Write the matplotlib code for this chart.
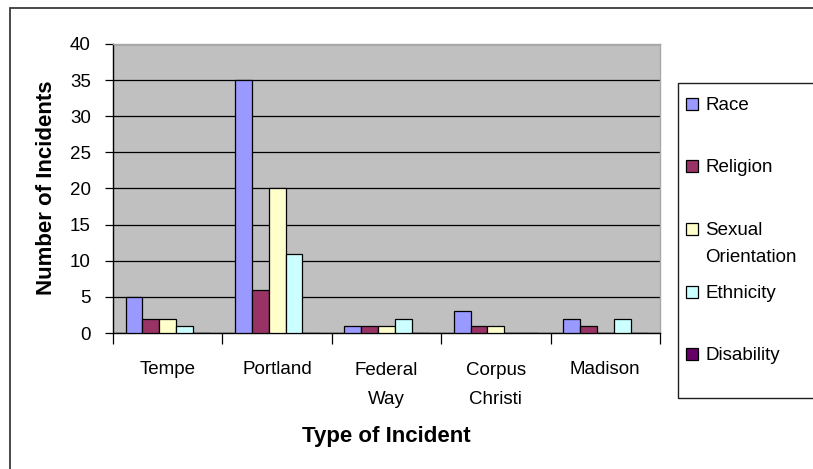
import matplotlib
matplotlib.use('Agg')
import matplotlib.pyplot as plt
from matplotlib.patches import Rectangle
import numpy as np

# ---- data ----
cities = ['Tempe', 'Portland', 'Federal\nWay', 'Corpus\nChristi', 'Madison']
series_names = ['Race', 'Religion', 'Sexual\nOrientation', 'Ethnicity', 'Disability']
race = [5, 35, 1, 3, 2]
religion = [2, 6, 1, 1, 1]
sexual_orientation = [2, 20, 1, 1, 0]
ethnicity = [1, 11, 2, 0, 2]
disability = [0, 0, 0, 0, 0]
yticks = [0, 5, 10, 15, 20, 25, 30, 35, 40]

series_values = [race, religion, sexual_orientation, ethnicity, disability]
colors = ['#9999FF', '#993366', '#FFFFCC', '#CCFFFF', '#660066']

plt.rcParams['font.family'] = ['Liberation Sans', 'DejaVu Sans']

W, H = 813, 469
fig = plt.figure(figsize=(W / 100, H / 100), dpi=100)
fig.patch.set_facecolor('white')

LABEL_SIZE = 13.5
TITLE_SIZE = 16


def fx(px):
    return px / W


def fy(py):
    return 1 - py / H


# chart-area border (runs off the right and bottom edges)
fig.patches.append(Rectangle((fx(10), fy(H + 20)), fx(W + 20) - fx(10), fy(8) - fy(H + 20),
                             transform=fig.transFigure, fill=False,
                             edgecolor='#3a3a3a', linewidth=1.3))

# plot area
L, R, T, B = 113, 660, 44, 333
ax = fig.add_axes([fx(L), fy(B), fx(R) - fx(L), fy(T) - fy(B)])
ax.set_facecolor('#C0C0C0')

n_series = len(series_values)
x = np.arange(len(cities))
bar_w = 1 / (n_series + 1.5)
for i, (vals, col) in enumerate(zip(series_values, colors)):
    offs = (i - (n_series - 1) / 2) * bar_w
    ax.bar(x + offs, vals, width=bar_w, color=col, edgecolor='black',
           linewidth=0.9, zorder=3)

ax.set_xlim(-0.5, len(cities) - 0.5)
ax.set_ylim(0, 40)
ax.set_yticks(yticks)
ax.set_yticklabels([str(v) for v in yticks], fontsize=LABEL_SIZE)
ax.yaxis.grid(True, color='black', linewidth=0.9, zorder=1)
ax.set_axisbelow(True)
ax.tick_params(axis='y', direction='out', length=6, width=0.9, pad=10, colors='black')

# category boundary ticks, labels written separately
ax.set_xticks(np.arange(len(cities) + 1) - 0.5)
ax.set_xticklabels([])
ax.tick_params(axis='x', direction='out', length=8, width=0.9)

tick_gap = 30      # pixels between wrapped label lines
first_baseline = 374
for c_i, name in enumerate(cities):
    n_lines = name.count('\n') + 1
    yb = first_baseline + (n_lines - 1) * tick_gap
    ax.text(c_i, (B - yb) / (B - T), name, transform=ax.get_xaxis_transform(),
            ha='center', va='baseline', fontsize=LABEL_SIZE, linespacing=1.96)

for s in ['left', 'bottom']:
    ax.spines[s].set_color('black')
    ax.spines[s].set_linewidth(1.0)
for s in ['top', 'right']:
    ax.spines[s].set_color('#A8A8A8')
    ax.spines[s].set_linewidth(1.0)

# axis titles
fig.text(fx(386.5), fy(442), 'Type of Incident', ha='center', va='baseline',
         fontsize=TITLE_SIZE, fontweight='bold')
fig.text(fx(47), fy(188), 'Number of Incidents', ha='center', va='center',
         rotation=90, fontsize=TITLE_SIZE, fontweight='bold')

# legend box (runs off the right edge)
fig.patches.append(Rectangle((fx(678), fy(398)), fx(W + 20) - fx(678), fy(83) - fy(398),
                             transform=fig.transFigure, fill=False,
                             edgecolor='#202020', linewidth=1.0))
legend_gap = 26.7
baselines = [110, 172, 235, 298, 360]
for name, col, yb in zip(series_names, colors, baselines):
    fig.patches.append(Rectangle((fx(686), fy(yb)), fx(698) - fx(686), fy(yb - 12) - fy(yb),
                                 transform=fig.transFigure, facecolor=col,
                                 edgecolor='black', linewidth=0.9))
    n_lines = name.count('\n') + 1
    fig.text(fx(705), fy(yb + (n_lines - 1) * legend_gap), name, ha='left',
             va='baseline', fontsize=LABEL_SIZE, linespacing=1.74)

fig.savefig('out.png', dpi=100)
